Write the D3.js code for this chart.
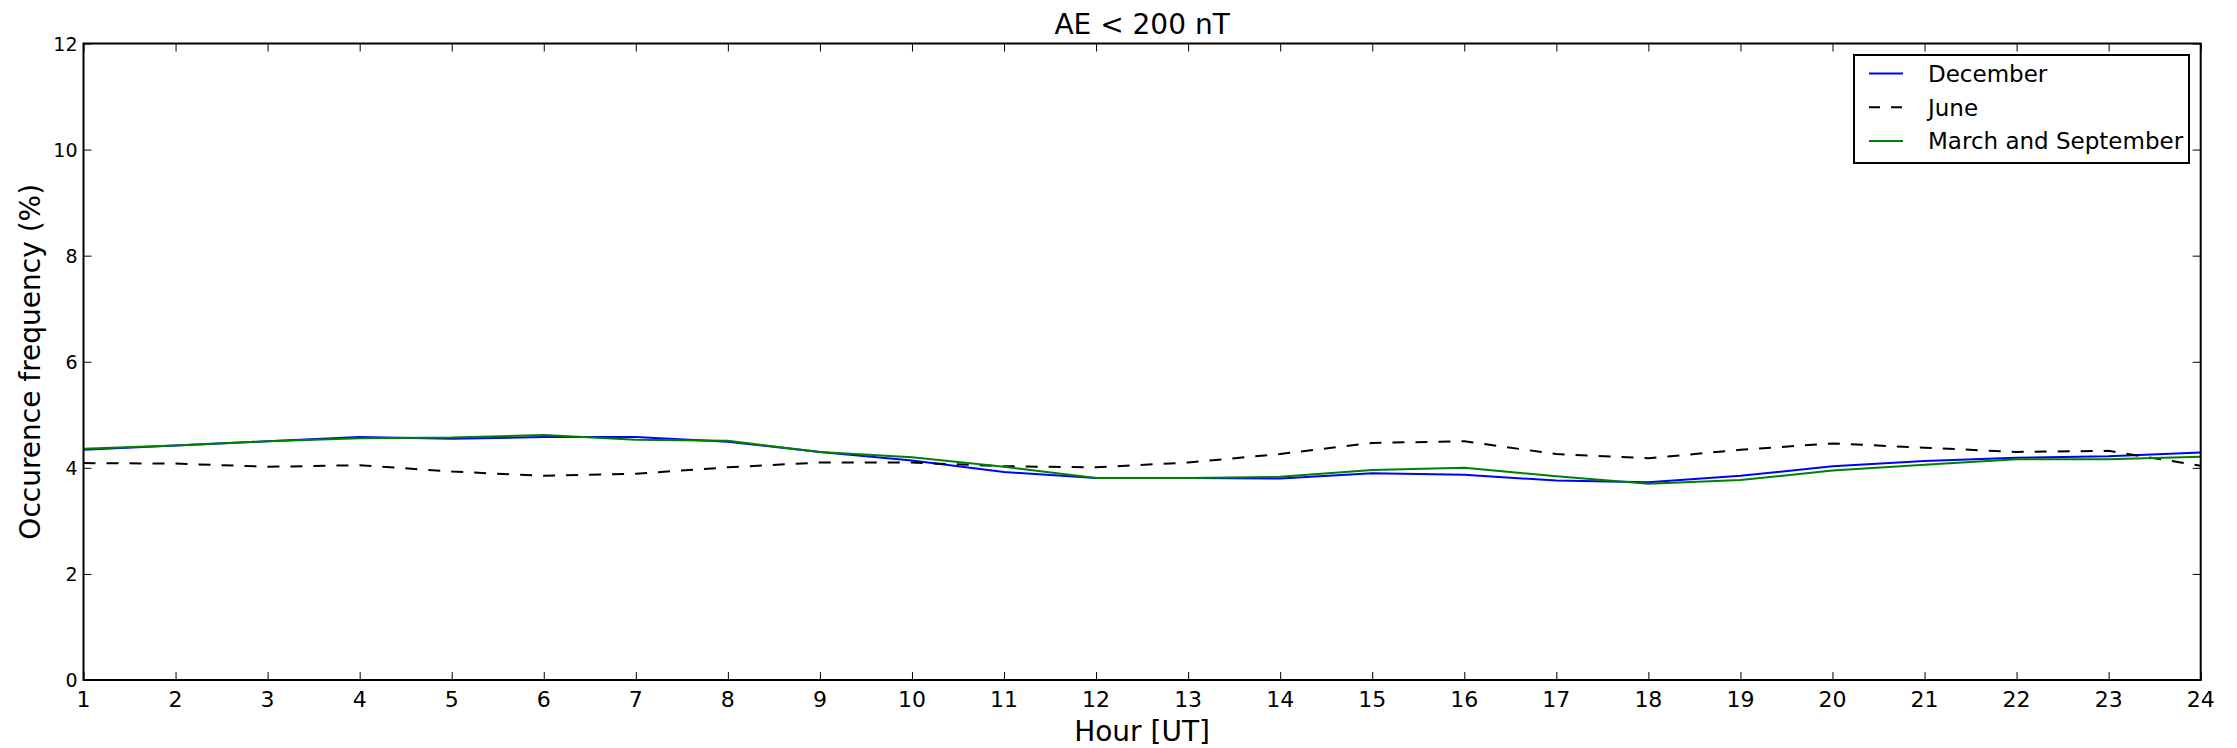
<!DOCTYPE html>
<html>
<head>
<meta charset="utf-8">
<script src="https://cdn.jsdelivr.net/npm/d3@7"></script>
<style>
  html, body { margin: 0; padding: 0; background: #fff; }
  svg { display: block; font-family: "DejaVu Sans", sans-serif; }
</style>
</head>
<body>
<div id="chart"></div>
<script>
// ---------- Data ----------
const HOURS = d3.range(1, 25);
const DECEMBER = [4.34, 4.42, 4.50, 4.58, 4.55, 4.58, 4.58, 4.49, 4.30, 4.14, 3.92, 3.81,
                  3.81, 3.80, 3.90, 3.87, 3.76, 3.73, 3.85, 4.03, 4.13, 4.19, 4.22, 4.29];
const JUNE = [4.09, 4.08, 4.02, 4.05, 3.93, 3.85, 3.89, 4.01, 4.10, 4.10, 4.03, 4.01,
              4.10, 4.26, 4.47, 4.50, 4.26, 4.18, 4.34, 4.46, 4.38, 4.30, 4.32, 4.04];
const MARCH_SEPT = [4.36, 4.42, 4.50, 4.56, 4.57, 4.62, 4.53, 4.51, 4.30, 4.20, 4.02, 3.81,
                    3.81, 3.83, 3.96, 4.00, 3.84, 3.70, 3.77, 3.95, 4.06, 4.16, 4.16, 4.21];
const Y_TICKS = [0, 2, 4, 6, 8, 10, 12];

const SERIES = [
  { name: "December", values: DECEMBER, color: "#0000ff", dash: null },
  { name: "June", values: JUNE, color: "#000000", dash: "12,11" },
  { name: "March and September", values: MARCH_SEPT, color: "#008000", dash: null }
];

// ---------- Layout ----------
const width = 2237, height = 748;
const margin = { top: 43.5, right: 36.3, bottom: 68, left: 83.5 };

const svg = d3.select("#chart").append("svg")
  .attr("width", width).attr("height", height);

const x = d3.scaleLinear().domain([1, 24]).range([margin.left, width - margin.right]);
const y = d3.scaleLinear().domain([0, 12]).range([height - margin.bottom, margin.top]);

const TICK = 8;

// inward ticks on all four sides
const axB = svg.append("g").attr("transform", `translate(0,${y(0)})`)
  .call(d3.axisTop(x).tickValues(HOURS).tickSize(TICK).tickFormat(""));
const axT = svg.append("g").attr("transform", `translate(0,${y(12)})`)
  .call(d3.axisBottom(x).tickValues(HOURS).tickSize(TICK).tickFormat(""));
const axL = svg.append("g").attr("transform", `translate(${x(1)},0)`)
  .call(d3.axisRight(y).tickValues(Y_TICKS).tickSize(TICK).tickFormat(""));
const axR = svg.append("g").attr("transform", `translate(${x(24)},0)`)
  .call(d3.axisLeft(y).tickValues(Y_TICKS).tickSize(TICK).tickFormat(""));
[axB, axT, axL, axR].forEach(g => {
  g.select(".domain").remove();
  g.selectAll("line").attr("stroke", "#000").attr("stroke-width", 1);
});

// tick labels
svg.append("g").selectAll("text")
  .data(HOURS).join("text")
    .attr("x", d => x(d))
    .attr("y", y(0) + 27)
    .attr("text-anchor", "middle")
    .style("font-size", "22px")
    .text(d => d);

svg.append("g").selectAll("text")
  .data(Y_TICKS).join("text")
    .attr("x", x(1) - 6)
    .attr("y", d => y(d) + 7)
    .attr("text-anchor", "end")
    .style("font-size", "19px")
    .text(d => d);

// lines
const line = d3.line().x((d, i) => x(HOURS[i])).y(d => y(d));

svg.append("g").selectAll("path")
  .data(SERIES).join("path")
    .attr("d", d => line(d.values))
    .attr("fill", "none")
    .attr("stroke", d => d.color)
    .attr("stroke-width", 2)
    .attr("stroke-dasharray", d => d.dash);

// frame
svg.append("rect")
  .attr("x", x(1)).attr("y", y(12))
  .attr("width", x(24) - x(1)).attr("height", y(0) - y(12))
  .attr("fill", "none").attr("stroke", "#000").attr("stroke-width", 2);

// title + axis labels
svg.append("text")
  .attr("x", (x(1) + x(24)) / 2).attr("y", 34)
  .attr("text-anchor", "middle")
  .style("font-size", "28px")
  .text("AE < 200 nT");

svg.append("text")
  .attr("x", (x(1) + x(24)) / 2).attr("y", 741)
  .attr("text-anchor", "middle")
  .style("font-size", "28px")
  .text("Hour [UT]");

svg.append("text")
  .attr("transform", `translate(40,${(y(0) + y(12)) / 2}) rotate(-90)`)
  .attr("text-anchor", "middle")
  .style("font-size", "28px")
  .text("Occurence frequency (%)");

// legend
const lg = svg.append("g").attr("transform", "translate(1854,55)");
lg.append("rect")
  .attr("width", 335).attr("height", 108)
  .attr("fill", "#fff").attr("stroke", "#000").attr("stroke-width", 2);

const rows = lg.selectAll("g.row")
  .data(SERIES).join("g")
    .attr("class", "row")
    .attr("transform", (d, i) => `translate(0,${18.5 + i * 33.7})`);

rows.append("line")
  .attr("x1", 15).attr("x2", 49)
  .attr("stroke", d => d.color)
  .attr("stroke-width", 2)
  .attr("stroke-dasharray", d => d.dash ? "11,11" : null);

rows.append("text")
  .attr("x", 74).attr("y", 8.5)
  .style("font-size", "23px")
  .text(d => d.name);
</script>
</body>
</html>
